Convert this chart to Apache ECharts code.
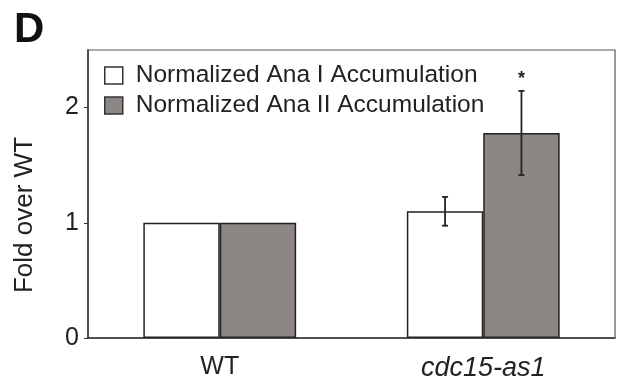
<!DOCTYPE html>
<html>
<head>
<meta charset="utf-8">
<script src="https://cdn.jsdelivr.net/npm/echarts@6/dist/echarts.min.js"></script>
<style>
  html, body { margin: 0; padding: 0; background: #fff; }
  #chart { width: 618px; height: 385px; }
</style>
</head>
<body>
<div id="chart"></div>
<script>
// data
const categories = ["WT", "cdc15-as1"];
const seriesNames = ["Normalized Ana I Accumulation", "Normalized Ana II Accumulation"];
const anaI = [1.0, 1.1];
const anaII = [1.0, 1.78];
const anaIErr = [0, 0.125];
const anaIIErr = [0, 0.365];
const anaIISig = [false, true];
const yTicks = [0, 1, 2];

const font = "Liberation Sans, Arial, sans-serif";
const gapPct = 42;

// one custom series draws the error bars for one bar series
function errorSeries(idx, values, errs, sig) {
  const data = values.map((v, i) => [i, v, errs[i], sig ? (sig[i] ? 1 : 0) : 0]);
  return {
    type: "custom",
    z: 10,
    silent: true,
    data: data,
    renderItem: function (params, api) {
      const err = api.value(2);
      if (!err) return;
      const cat = api.value(0);
      const val = api.value(1);
      const catW = api.size([1, 0])[0];
      const barW = catW * (1 - gapPct / 100) / 2;
      const cx = api.coord([cat, 0])[0] + (idx === 0 ? -barW / 2 : barW / 2);
      const top = api.coord([cat, val + err])[1];
      const bot = api.coord([cat, val - err])[1];
      const cap = 3;
      const st = { stroke: "#222", lineWidth: 1.8 };
      const children = [
        { type: "line", shape: { x1: cx, y1: top, x2: cx, y2: bot }, style: st },
        { type: "line", shape: { x1: cx - cap, y1: top, x2: cx + cap, y2: top }, style: st },
        { type: "line", shape: { x1: cx - cap, y1: bot, x2: cx + cap, y2: bot }, style: st }
      ];
      if (api.value(3)) {
        children.push({
          type: "text",
          style: {
            text: "*", x: cx, y: top - 3, align: "center", verticalAlign: "bottom",
            font: "bold 18px " + font, fill: "#222"
          }
        });
      }
      return { type: "group", children: children };
    }
  };
}

const chart = echarts.init(document.getElementById("chart"));
chart.setOption({
  animation: false,
  backgroundColor: "#fff",
  textStyle: { fontFamily: font },
  graphic: [
    {
      type: "text", left: 14, top: 9,
      style: { text: "D", font: "bold 42px " + font, fill: "#111" }
    }
  ],
  grid: {
    left: 88, right: 3, top: 50, bottom: 47,
    show: true, borderColor: "#555", borderWidth: 1.2
  },
  legend: {
    orient: "vertical",
    left: 99, top: 58,
    itemWidth: 18, itemHeight: 17, itemGap: 5,
    icon: "rect",
    textStyle: { fontSize: 24.5, color: "#222", fontFamily: font, padding: [0, 0, 0, 8] },
    itemStyle: { borderColor: "#333", borderWidth: 1.5 },
    data: seriesNames
  },
  xAxis: {
    type: "category",
    data: categories,
    axisLine: { lineStyle: { color: "#333", width: 1.5 } },
    axisTick: { length: 5, lineStyle: { color: "#333" } },
    axisLabel: {
      fontSize: 25, color: "#222", margin: 17,
      formatter: v => v === "cdc15-as1" ? "{i|" + v + "}" : v,
      rich: { i: { fontSize: 27, fontStyle: "italic", color: "#222", fontFamily: font } }
    }
  },
  yAxis: {
    type: "value",
    min: 0, max: 2.5, interval: 1,
    name: "Fold over WT",
    nameLocation: "middle",
    nameGap: 50,
    nameTextStyle: { fontSize: 26, color: "#222", padding: [0, 42, 0, 0] },
    splitLine: { show: false },
    axisLine: { show: true, lineStyle: { color: "#333", width: 1.5 } },
    axisTick: { show: true, length: 4, customValues: yTicks, lineStyle: { color: "#333" } },
    axisLabel: { fontSize: 25, color: "#222", margin: 9, customValues: yTicks }
  },
  series: [
    {
      name: seriesNames[0], type: "bar", data: anaI,
      barGap: "0%", barCategoryGap: gapPct + "%",
      itemStyle: { color: "#fff", borderColor: "#222", borderWidth: 1.5 }
    },
    {
      name: seriesNames[1], type: "bar", data: anaII,
      barGap: "0%", barCategoryGap: gapPct + "%",
      itemStyle: { color: "#8c8784", borderColor: "#222", borderWidth: 1.5 }
    },
    errorSeries(0, anaI, anaIErr, null),
    errorSeries(1, anaII, anaIIErr, anaIISig)
  ]
});
</script>
</body>
</html>
